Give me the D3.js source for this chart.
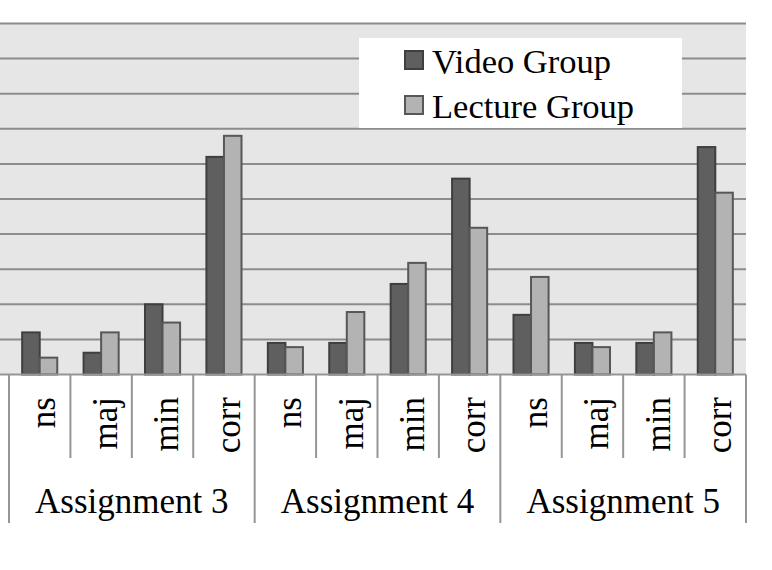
<!DOCTYPE html>
<html>
<head>
<meta charset="utf-8">
<script src="https://cdn.jsdelivr.net/npm/d3@7"></script>
<style>
  html, body { margin: 0; padding: 0; background: #fff; }
  svg { display: block; }
  text { font-family: "Liberation Serif", "Times New Roman", serif; fill: #000; }
</style>
</head>
<body>
<svg id="chart" width="772" height="570"></svg>
<script>
// data (units: one gridline = 5)
const assignments = ["Assignment 3", "Assignment 4", "Assignment 5"];
const errorTypes = ["ns", "maj", "min", "corr"];
const seriesNames = ["Video Group", "Lecture Group"];
const videoGroup = [6, 3.1, 10, 31, 4.5, 4.5, 12.9, 27.9, 8.5, 4.5, 4.5, 32.4];
const lectureGroup = [2.4, 6, 7.4, 34, 3.9, 8.9, 15.9, 20.9, 13.9, 3.9, 6, 25.9];
const yTicks = [0, 5, 10, 15, 20, 25, 30, 35, 40, 45, 50];

const fills = ["#5f5f5f", "#b3b3b3"];
const strokes = ["#3f3f3f", "#575757"];

const width = 772, height = 570;
const plot = { left: 0, right: 746, top: 23.5, bottom: 374.5 };
const catLeft = 9;

const svg = d3.select("#chart");

// one row per category cell
const cats = [];
assignments.forEach((a, i) => errorTypes.forEach((e, j) => cats.push({ id: i * 4 + j, a, e })));

const x = d3.scaleBand()
  .domain(cats.map(d => d.id))
  .range([catLeft, plot.right])
  .paddingInner(0)
  .paddingOuter(0);

const x1 = d3.scaleBand()
  .domain(seriesNames)
  .range([0, x.bandwidth()])
  .paddingInner(0)
  .paddingOuter(0.75);

const y = d3.scaleLinear()
  .domain([0, 50])
  .range([plot.bottom, plot.top]);

// plot background
svg.append("rect")
  .attr("x", plot.left).attr("y", plot.top)
  .attr("width", plot.right - plot.left).attr("height", plot.bottom - plot.top)
  .attr("fill", "#e6e6e6");

// gridlines
svg.append("g")
  .selectAll("line")
  .data(yTicks.slice(1))
  .join("line")
  .attr("x1", plot.left).attr("x2", plot.right)
  .attr("y1", d => y(d)).attr("y2", d => y(d))
  .attr("stroke", "#8c8c8c")
  .attr("stroke-width", 2);

// bars
const values = [videoGroup, lectureGroup];
const bars = svg.append("g");
seriesNames.forEach((s, si) => {
  bars.append("g")
    .selectAll("rect")
    .data(cats)
    .join("rect")
    .attr("x", d => x(d.id) + x1(s))
    .attr("y", d => y(values[si][d.id]))
    .attr("width", x1.bandwidth())
    .attr("height", d => y(0) - y(values[si][d.id]))
    .attr("fill", fills[si])
    .attr("stroke", strokes[si])
    .attr("stroke-width", 2);
});

// category axis
const axis = svg.append("g").attr("stroke", "#959595").attr("stroke-width", 2);
axis.append("line")
  .attr("x1", plot.left).attr("x2", plot.right)
  .attr("y1", plot.bottom).attr("y2", plot.bottom);

axis.selectAll(".tick")
  .data(d3.range(cats.length + 1))
  .join("line")
  .attr("class", "tick")
  .attr("x1", i => i < cats.length ? x(i) : plot.right)
  .attr("x2", i => i < cats.length ? x(i) : plot.right)
  .attr("y1", plot.bottom)
  .attr("y2", i => i % 4 === 0 ? 523 : 458);

svg.append("g")
  .selectAll("text")
  .data(cats)
  .join("text")
  .attr("transform", d => `translate(${x(d.id) + x.bandwidth() / 2},397) rotate(-90)`)
  .attr("text-anchor", "end")
  .attr("dy", "0.45em")
  .attr("font-size", 35)
  .text(d => d.e);

svg.append("g")
  .selectAll("text")
  .data(assignments)
  .join("text")
  .attr("x", (d, i) => (x(i * 4) + (i < 2 ? x(i * 4 + 4) : plot.right)) / 2)
  .attr("y", 513)
  .attr("text-anchor", "middle")
  .attr("font-size", 35)
  .text(d => d);

// legend
const legend = svg.append("g");
legend.append("rect")
  .attr("x", 359).attr("y", 38)
  .attr("width", 323).attr("height", 90)
  .attr("fill", "#fff");

const item = legend.selectAll(".item")
  .data(seriesNames)
  .join("g")
  .attr("class", "item")
  .attr("transform", (d, i) => `translate(405,${51 + i * 45})`);

item.append("rect")
  .attr("width", 18).attr("height", 18)
  .attr("fill", (d, i) => fills[i])
  .attr("stroke", (d, i) => strokes[i])
  .attr("stroke-width", 2);

item.append("text")
  .attr("x", 27)
  .attr("y", 22)
  .attr("font-size", 34.5)
  .text(d => d);
</script>
</body>
</html>
